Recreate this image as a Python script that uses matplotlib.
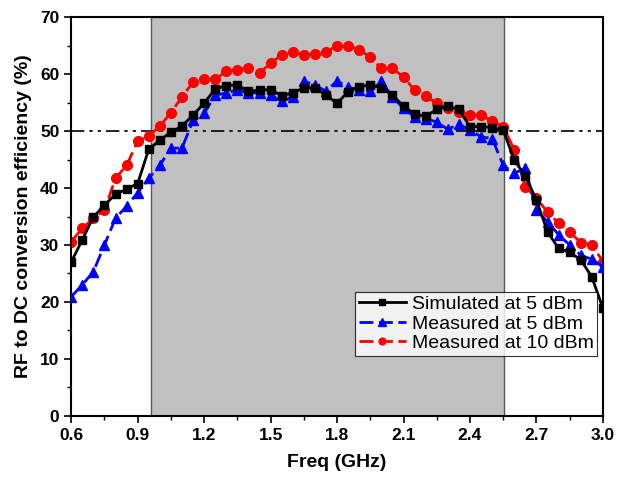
import numpy as np
import matplotlib
matplotlib.use("Agg")
import matplotlib.pyplot as plt
from matplotlib.ticker import MultipleLocator

plt.rcParams['font.family'] = ['Liberation Sans', 'DejaVu Sans']

# frequency points (GHz), 0.05 GHz step
freq = np.round(np.arange(0.6, 3.001, 0.05), 2)

sim_5dbm = [27.0, 30.9, 34.9, 37.0, 38.9, 39.8, 40.8, 46.8, 48.4, 49.8,
            50.9, 52.8, 54.9, 57.4, 58.0, 58.1, 57.0, 57.2, 57.3, 56.2,
            56.7, 57.6, 57.6, 56.3, 54.9, 56.9, 57.8, 58.1, 57.6, 56.3,
            54.4, 53.0, 52.6, 53.8, 54.4, 53.8, 50.8, 50.8, 50.6, 50.2,
            44.9, 42.1, 37.9, 32.3, 29.4, 28.7, 27.4, 24.4, 18.9]

meas_5dbm = [20.9, 23.0, 25.3, 30.0, 34.7, 36.8, 39.2, 41.7, 44.0, 47.0,
             47.0, 51.9, 53.1, 56.3, 56.7, 57.2, 56.7, 56.7, 56.4, 55.2,
             56.0, 58.8, 58.1, 57.0, 58.8, 57.7, 57.3, 57.0, 58.8, 56.0,
             54.0, 52.5, 52.2, 51.6, 50.3, 51.2, 50.2, 49.0, 48.7, 44.0,
             42.6, 43.5, 36.1, 34.1, 31.8, 30.0, 28.2, 27.5, 26.2]

meas_10dbm = [30.6, 32.9, 34.7, 36.1, 41.7, 44.0, 48.2, 49.1, 50.9, 53.2,
              56.0, 58.6, 59.1, 59.1, 60.5, 60.8, 61.0, 60.2, 61.9, 63.4,
              63.9, 63.3, 63.6, 63.9, 65.0, 65.0, 64.3, 63.0, 61.0, 61.0,
              59.5, 57.2, 56.1, 54.9, 54.0, 53.4, 52.8, 52.8, 51.8, 50.8,
              46.7, 40.2, 38.2, 35.8, 33.8, 32.3, 30.4, 30.0, 27.1]

band = (0.96, 2.555)
ref_level = 50

fig = plt.figure(figsize=(6.30, 4.78), dpi=100)
ax = fig.add_axes([0.113, 0.130, 0.844, 0.834])

ax.axvspan(band[0], band[1], facecolor='#c0c0c0', edgecolor='#555555', linewidth=1.0, zorder=0)
ax.axhline(ref_level, color='black', linewidth=1.2, linestyle=(0, (8, 3, 2, 3, 2, 3)), zorder=1)

ax.plot(freq, meas_10dbm, color='red', linestyle=(0, (5, 2)), linewidth=2,
        marker='o', markersize=7, label='Measured at 10 dBm', zorder=2)
ax.plot(freq, meas_5dbm, color='blue', linestyle=(0, (5, 2)), linewidth=2,
        marker='^', markersize=7.5, label='Measured at 5 dBm', zorder=3)
ax.plot(freq, sim_5dbm, color='black', linestyle='-', linewidth=2,
        marker='s', markersize=6, label='Simulated at 5 dBm', zorder=4)

ax.set_xlim(0.6, 3.0)
ax.set_ylim(0, 70)
ax.xaxis.set_major_locator(MultipleLocator(0.3))
ax.xaxis.set_minor_locator(MultipleLocator(0.15))
ax.yaxis.set_major_locator(MultipleLocator(10))
ax.yaxis.set_minor_locator(MultipleLocator(5))
ax.tick_params(which='major', direction='out', length=5, width=1.2, labelsize=12.5)
ax.tick_params(which='minor', direction='out', length=3, width=1.0)
ax.xaxis.set_major_formatter(matplotlib.ticker.FormatStrFormatter('%.1f'))
for lbl in ax.get_xticklabels() + ax.get_yticklabels():
    lbl.set_fontweight('bold')
for sp in ax.spines.values():
    sp.set_linewidth(1.5)

ax.set_xlabel('Freq (GHz)', fontsize=14, fontweight='bold', labelpad=8)
ax.set_ylabel('RF to DC conversion efficiency (%)', fontsize=14, fontweight='bold', labelpad=6)

h, l = ax.get_legend_handles_labels()
leg = ax.legend(h[::-1], l[::-1], loc='lower right', bbox_to_anchor=(0.997, 0.14),
                fontsize=14, frameon=True, fancybox=False, edgecolor='black',
                handlelength=2.4, borderpad=0.2, labelspacing=0.1, handletextpad=0.3,
                borderaxespad=0.2, markerscale=0.7)
leg.get_frame().set_linewidth(0.8)

fig.savefig('out.png', dpi=100)
